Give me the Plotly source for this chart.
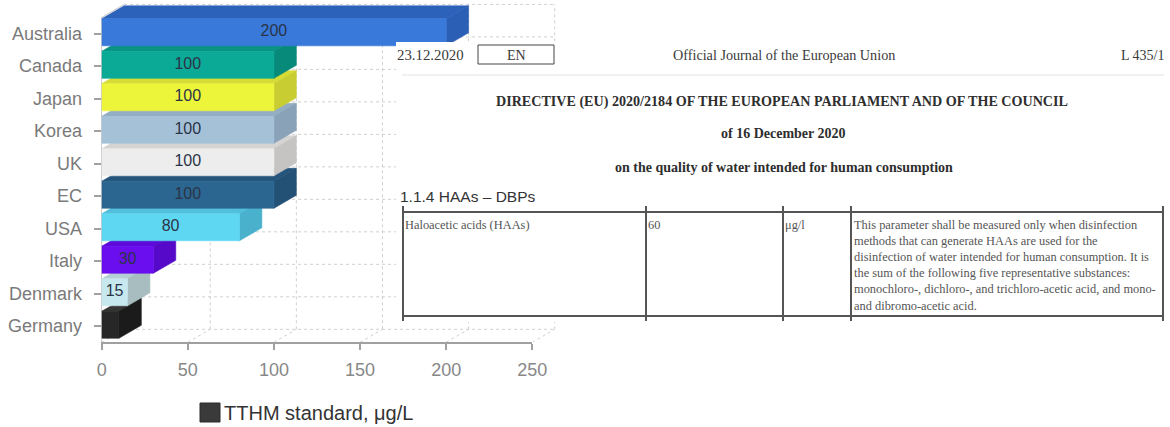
import plotly.graph_objects as go

# ---- chart data -------------------------------------------------------------
countries = ["Germany", "Denmark", "Italy", "USA", "EC",
             "UK", "Korea", "Japan", "Canada", "Australia"]
tthm_limit = [10, 15, 30, 80, 100, 100, 100, 100, 100, 200]   # TTHM standard, µg/L
unlabelled = {"Germany"}
x_ticks = [0, 50, 100, 150, 200, 250]
series_name = "TTHM standard, μg/L"

# ---- styling ----------------------------------------------------------------
front_colors = ["#272727", "#C7E8EE", "#6A0EF0", "#5ED7F2", "#2B6691",
                "#EDEDED", "#A4C1D7", "#EDF53B", "#0BAA97", "#3879DA"]
side_colors = ["#1B1B1B", "#A7BDBF", "#5609C8", "#4AB1CD", "#235075",
               "#C6C4C3", "#8AA2B8", "#C8CE32", "#088A7A", "#2B5EB5"]
top_colors = ["#363636", "#B5D0D4", "#5C0BD8", "#52C0DC", "#25557C",
              "#D6D4D2", "#93ADC3", "#D6DC35", "#099484", "#2D62BA"]

W, H = 1170, 427
SANS = "Liberation Sans, Arial, sans-serif"
SERIF = "Liberation Serif, Times New Roman, serif"

# pixel frame of the value / category scales
X0_PX, PX_PER_UNIT = 101.7, 1.7224
BASE_PX, ROW_PX = 342.3, 32.49
X_MAX, X_EXT = 250, 270

# 3-D extrusion (value units, category units)
DX, DY = 13.0, 0.4
BAR_H, BAR_SHIFT = 0.83, 0.04

n = len(countries)
y_top_front = n - 0.5
y_ext = -0.5 + BASE_PX / ROW_PX

fig = go.Figure()

# empty trace so the visible value/category axes get their own subplot
fig.add_trace(go.Scatter(x=[None], y=[None], xaxis="x", yaxis="y",
                         mode="markers", hoverinfo="skip", showlegend=False))

# ---- back wall grid, floor lines and left wall edge -------------------------
gx, gy = [], []
for t in x_ticks:
    gx += [t + DX, t + DX, None]
    gy += [-0.5 + DY, y_top_front + DY, None]
    gx += [t, t + DX, None]
    gy += [-0.5, -0.5 + DY, None]
for k in range(-1, n):
    gx += [DX, X_MAX + DX, None]
    gy += [k + 0.5 + DY, k + 0.5 + DY, None]
fig.add_trace(go.Scatter(x=gx, y=gy, mode="lines", xaxis="x2", yaxis="y2",
                         line=dict(color="#cfcfcf", width=1, dash="dot"),
                         hoverinfo="skip", showlegend=False))
fig.add_trace(go.Scatter(x=[0, DX], y=[y_top_front, y_top_front + DY],
                         mode="lines", xaxis="x2", yaxis="y2",
                         line=dict(color="#c8c8c8", width=1),
                         hoverinfo="skip", showlegend=False))


def face(xs, ys, color):
    fig.add_trace(go.Scatter(x=xs + [xs[0]], y=ys + [ys[0]], mode="lines",
                             fill="toself", fillcolor=color,
                             line=dict(color=color, width=0.6),
                             xaxis="x2", yaxis="y2",
                             hoverinfo="skip", showlegend=False))


# ---- extruded bars, drawn bottom-up so each front hides the face below ------
for i, v in enumerate(tthm_limit):
    yc = i + BAR_SHIFT
    y0, y1 = yc - BAR_H / 2, yc + BAR_H / 2
    face([0, v, v + DX, DX], [y1, y1, y1 + DY, y1 + DY], top_colors[i])
    face([v, v + DX, v + DX, v], [y0, y0 + DY, y1 + DY, y1], side_colors[i])
    face([0, v, v, 0], [y0, y0, y1, y1], front_colors[i])

# value labels on the bar fronts
fig.add_trace(go.Scatter(
    x=[v / 2 for v in tthm_limit],
    y=[i + BAR_SHIFT for i in range(n)],
    text=["" if c in unlabelled else str(v) for c, v in zip(countries, tthm_limit)],
    mode="text", textposition="middle center",
    textfont=dict(family=SANS, size=16, color="#2b3447"),
    xaxis="x2", yaxis="y2", hoverinfo="skip", showlegend=False))

# ---- axes -------------------------------------------------------------------
x_dom = [X0_PX / W, (X0_PX + X_MAX * PX_PER_UNIT) / W]
x2_dom = [X0_PX / W, (X0_PX + X_EXT * PX_PER_UNIT) / W]
y_dom = [1 - BASE_PX / H, 1 - (BASE_PX - n * ROW_PX) / H]
y2_dom = [1 - BASE_PX / H, 1]

fig.update_layout(
    width=W, height=H,
    margin=dict(l=0, r=0, t=0, b=0, autoexpand=False),
    paper_bgcolor="white", plot_bgcolor="rgba(0,0,0,0)",
    showlegend=False,
    xaxis=dict(domain=x_dom, range=[0, X_MAX], anchor="y", automargin=False,
               tickvals=x_ticks, ticktext=[str(t) for t in x_ticks],
               showgrid=False, zeroline=False,
               showline=True, linecolor="#a0a0a0", linewidth=2,
               ticks="outside", ticklen=6, tickcolor="#a0a0a0", tickwidth=1.5,
               tickfont=dict(family=SANS, size=18, color="#888888"),
               ticklabelstandoff=4, fixedrange=True),
    yaxis=dict(domain=y_dom, range=[-0.5, y_top_front], anchor="x",
               automargin=False,
               tickvals=list(range(n)), ticktext=countries,
               showgrid=False, zeroline=False,
               showline=True, linecolor="#cccccc", linewidth=1,
               ticks="outside", ticklen=7, tickcolor="#a0a0a0", tickwidth=1.5,
               tickfont=dict(family=SANS, size=18, color="#7a7a7a"),
               ticklabelstandoff=8, fixedrange=True),
    xaxis2=dict(domain=x2_dom, range=[0, X_EXT], anchor="y2", automargin=False,
                visible=False, fixedrange=True),
    yaxis2=dict(domain=y2_dom, range=[-0.5, y_ext], anchor="x2", automargin=False,
                visible=False, fixedrange=True),
)

# ---- legend -----------------------------------------------------------------
shapes = []
annotations = []


def px_x(p):
    return p / W


def px_y(p):
    return 1 - p / H


def note(text, x, y, size, family=SERIF, xanchor="left", yanchor="middle",
         color="#3a3a3a", align="left"):
    annotations.append(dict(text=text, x=px_x(x), y=px_y(y), xref="paper",
                            yref="paper", xanchor=xanchor, yanchor=yanchor,
                            showarrow=False, align=align,
                            font=dict(family=family, size=size, color=color)))


def rect(x0, y0, x1, y1, fill=None, line="#444", lw=1):
    shapes.append(dict(type="rect", xref="paper", yref="paper", layer="above",
                       x0=px_x(x0), x1=px_x(x1), y0=px_y(y0), y1=px_y(y1),
                       fillcolor=fill if fill else "rgba(0,0,0,0)",
                       line=dict(color=line, width=lw)))


def hline(x0, x1, y, color="#555", lw=2):
    shapes.append(dict(type="line", xref="paper", yref="paper", layer="above",
                       x0=px_x(x0), x1=px_x(x1), y0=px_y(y), y1=px_y(y),
                       line=dict(color=color, width=lw)))


def vline(x, y0, y1, color="#555", lw=2):
    shapes.append(dict(type="line", xref="paper", yref="paper", layer="above",
                       x0=px_x(x), x1=px_x(x), y0=px_y(y0), y1=px_y(y1),
                       line=dict(color=color, width=lw)))


rect(200, 403, 220, 422, fill="#3a3a3a", line="#2a2a2a", lw=1)
note(series_name, 222, 413, 20, family=SANS, color="#333333")

# ---- EU directive excerpt panel ---------------------------------------------
doc_date = "23.12.2020"
doc_lang = "EN"
doc_journal = "Official Journal of the European Union"
doc_page = "L 435/1"
doc_title = "DIRECTIVE (EU) 2020/2184 OF THE EUROPEAN PARLIAMENT AND OF THE COUNCIL"
doc_adopted = "of 16 December 2020"
doc_subject = "on the quality of water intended for human consumption"
section_heading = "1.1.4 HAAs – DBPs"
param_name = "Haloacetic acids (HAAs)"
param_value = "60"
param_unit = "μg/l"
param_note = [
    "This parameter shall be measured only when disinfection",
    "methods that can generate HAAs are used for the",
    "disinfection of water intended for human consumption. It is",
    "the sum of the following five representative substances:",
    "monochloro-, dichloro-, and trichloro-acetic acid, and mono-",
    "and dibromo-acetic acid.",
]

rect(396, 42, 1172, 322, fill="white", line="white", lw=0)
note(doc_date, 395, 55, 14.8)
rect(478, 45, 554, 64, line="#444", lw=1)
note(doc_lang, 516, 55, 14, xanchor="center")
note(doc_journal, 784, 55, 14.2, xanchor="center")
note(doc_page, 1166, 55, 14, xanchor="right")
hline(402, 1164, 75, color="#e2e2e2", lw=1)
note("<b>" + doc_title + "</b>", 782, 101, 14.1, xanchor="center", color="#2e2e2e")
note("<b>" + doc_adopted + "</b>", 783, 133, 14, xanchor="center", color="#2e2e2e")
note("<b>" + doc_subject + "</b>", 784, 167, 14, xanchor="center", color="#2e2e2e")
note(section_heading, 398, 196, 15.5, family=SANS, color="#333333")

# table grid
hline(402, 1164, 212)
hline(402, 1164, 316)
for xv in [403, 646, 783, 851, 1163]:
    vline(xv, 206, 321)
note(param_name, 403, 225, 12.4, color="#555555")
note(param_value, 646, 225, 12.4, color="#555555")
note(param_unit, 783, 225, 12.4, color="#555555")
note("<br>".join(param_note), 852, 216, 12.4, yanchor="top", color="#555555")

fig.update_layout(shapes=shapes, annotations=annotations)

fig.write_html("out.html")
